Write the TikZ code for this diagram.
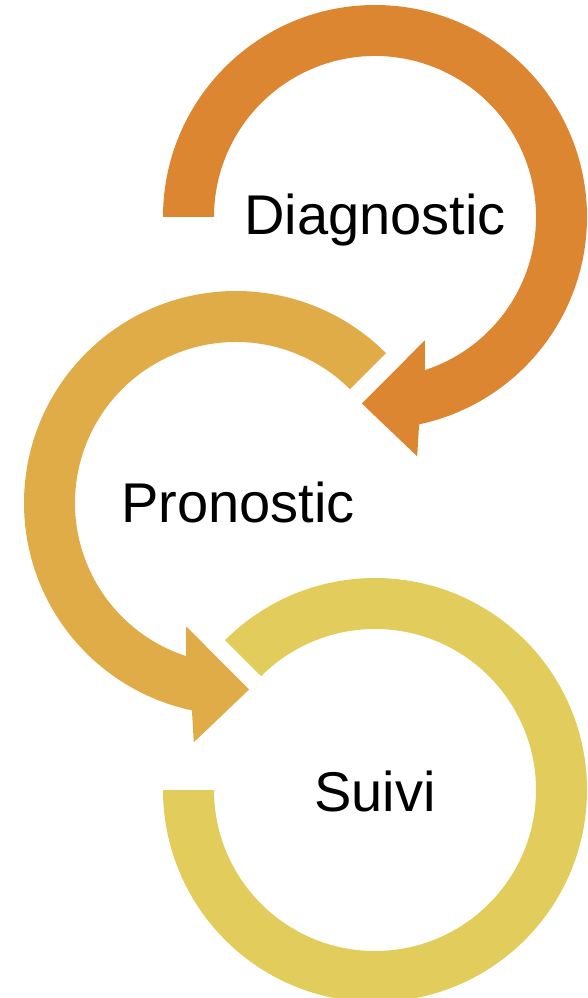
\documentclass[tikz,border=0pt]{standalone}
\usepackage{fontspec}
\setmainfont{Liberation Sans}
\usetikzlibrary{calc}
\pgfdeclarelayer{bg}
\pgfsetlayers{bg,main}
\definecolor{diagcol}{RGB}{220,134,50}
\definecolor{proncol}{RGB}{224,172,71}
\definecolor{suivcol}{RGB}{226,204,92}
\tikzset{
    every node/.style={inner sep=0mm, anchor=base, font=\fontsize{42}{50}\selectfont}
}

\begin{document}
\begin{tikzpicture}[x=0.75pt, y=0.75pt]
        \useasboundingbox (0,0) rectangle (588,-998);
        \coordinate (c1) at (375,-217);
        \coordinate (c2) at (236,-503);
        \coordinate (c3) at (375,-790);
        \node (diag) at (375,-235) {Diagnostic};
        \node (pron) at (238,-522) {Pronostic};
        \node (suivi) at (375,-811) {Suivi};
        \begin{pgfonlayer}{bg}
                % ring 1, clockwise, arrow into ring 2
                \fill [diagcol, shift={(c1)}] (180:212) arc [start angle=180, end angle=-78, radius=212]
                        -- (-80:243) -- (-94:187) -- (-68:133) -- (-72:161)
                        arc [start angle=-72, end angle=180, radius=161] -- cycle;
                % ring 2, counterclockwise, arrow into ring 3
                \fill [proncol, shift={(c2)}] (45:212) arc [start angle=45, end angle=258, radius=212]
                        -- (260:243) -- (274:187) -- (248:133) -- (252:161)
                        arc [start angle=252, end angle=45, radius=161] -- cycle;
                % ring 3, no arrow
                \fill [suivcol, shift={(c3)}] (135:212) arc [start angle=135, end angle=-180, radius=212]
                        -- (-180:161) arc [start angle=-180, end angle=135, radius=161] -- cycle;
        \end{pgfonlayer}
\end{tikzpicture}
\end{document}
